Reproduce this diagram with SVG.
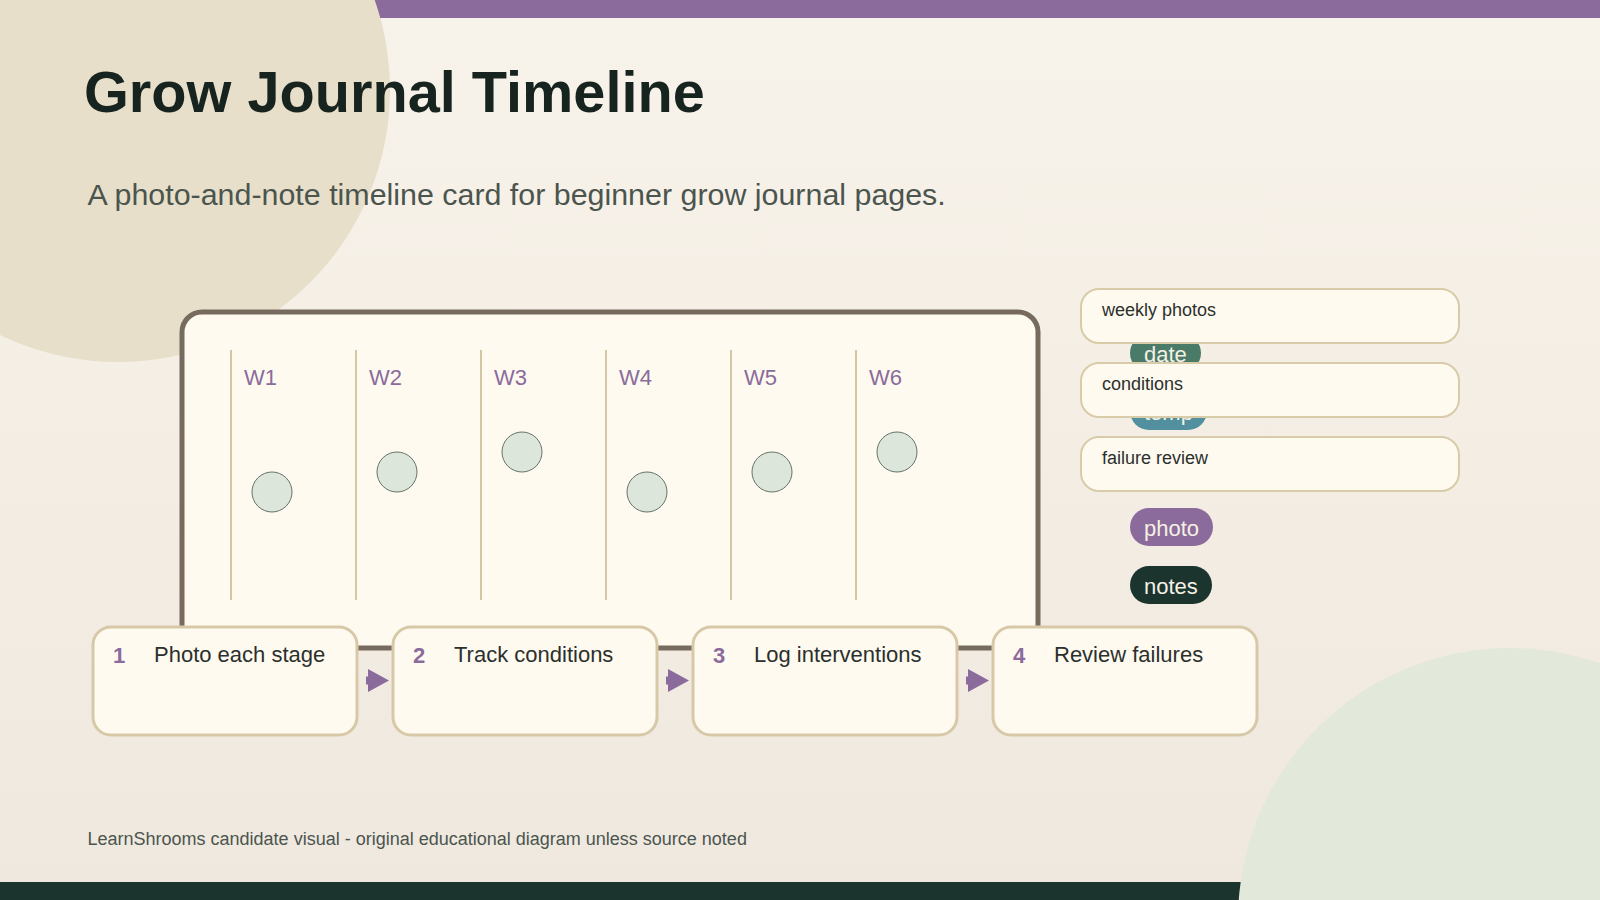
<svg xmlns="http://www.w3.org/2000/svg" width="1600" height="900" viewBox="0 0 1600 900">
  <defs>
    <linearGradient id="bg" x1="0" y1="0" x2="0" y2="1">
      <stop offset="0" stop-color="#f8f3ea"/>
      <stop offset="1" stop-color="#efe8df"/>
    </linearGradient>
    <marker id="arrow" markerUnits="userSpaceOnUse" markerWidth="22" markerHeight="24" viewBox="0 0 22 24" refX="0" refY="12" orient="auto">
      <path d="M0,0.5 L21,12 L0,23.5 z" fill="#8a6b9c"/>
    </marker>
    <style>
      .wline { stroke: #d2c6a5; stroke-width: 2; }
      .wlabel { font-family: "Liberation Sans", Arial, sans-serif; font-size: 22px; fill: #8a6b9c; }
      .dot { fill: #dce6da; stroke: #66736a; stroke-width: 1; }
      .sidebox { fill: #fffaf0; stroke: #d8cba8; stroke-width: 2; }
      .sidetext { font-family: "Liberation Sans", Arial, sans-serif; font-size: 18px; fill: #2b302c; }
      .pilltext { font-family: "Liberation Sans", Arial, sans-serif; font-size: 22px; fill: #f5f0e4; }
      .step { fill: #fffaf0; stroke: #d7c9a7; stroke-width: 3; }
      .stepnum { font-family: "Liberation Sans", Arial, sans-serif; font-size: 22px; font-weight: bold; fill: #8a6b9c; }
      .steptext { font-family: "Liberation Sans", Arial, sans-serif; font-size: 22px; fill: #2b302c; }
      .conn { stroke: #8a6b9c; stroke-width: 8; fill: none; }
    </style>
  </defs>

  <rect x="0" y="0" width="1600" height="900" fill="url(#bg)"/>
  <rect x="0" y="0" width="1600" height="18" fill="#8a6b9c"/>
  <rect x="0" y="882" width="1600" height="18" fill="#1b342d"/>
  <circle cx="118" cy="90" r="272" fill="#e7dfca"/>
  <circle cx="1510" cy="920" r="272" fill="#e2e8da"/>

  <text x="84" y="112" font-family="'Liberation Sans', Arial, sans-serif" font-size="57.7" font-weight="bold" fill="#17231f">Grow Journal Timeline</text>
  <text x="87.5" y="205" font-family="'Liberation Sans', Arial, sans-serif" font-size="30.4" fill="#4b554e">A photo-and-note timeline card for beginner grow journal pages.</text>

  <g id="timeline-card">
    <rect x="182" y="312" width="856" height="336" rx="20" fill="#fffaf0" stroke="#766b5d" stroke-width="5"/>
    <g id="week-1">
      <line class="wline" x1="231" y1="350" x2="231" y2="600"/>
      <text class="wlabel" x="244" y="385">W1</text>
      <circle class="dot" cx="272" cy="492" r="20"/>
    </g>
    <g id="week-2">
      <line class="wline" x1="356" y1="350" x2="356" y2="600"/>
      <text class="wlabel" x="369" y="385">W2</text>
      <circle class="dot" cx="397" cy="472" r="20"/>
    </g>
    <g id="week-3">
      <line class="wline" x1="481" y1="350" x2="481" y2="600"/>
      <text class="wlabel" x="494" y="385">W3</text>
      <circle class="dot" cx="522" cy="452" r="20"/>
    </g>
    <g id="week-4">
      <line class="wline" x1="606" y1="350" x2="606" y2="600"/>
      <text class="wlabel" x="619" y="385">W4</text>
      <circle class="dot" cx="647" cy="492" r="20"/>
    </g>
    <g id="week-5">
      <line class="wline" x1="731" y1="350" x2="731" y2="600"/>
      <text class="wlabel" x="744" y="385">W5</text>
      <circle class="dot" cx="772" cy="472" r="20"/>
    </g>
    <g id="week-6">
      <line class="wline" x1="856" y1="350" x2="856" y2="600"/>
      <text class="wlabel" x="869" y="385">W6</text>
      <circle class="dot" cx="897" cy="452" r="20"/>
    </g>
  </g>

  <g id="pills">
    <g id="pill-date">
      <rect x="1130" y="334" width="71" height="38" rx="19" fill="#4a7a68"/>
      <text class="pilltext" x="1144" y="362">date</text>
    </g>
    <g id="pill-temp">
      <rect x="1130" y="392" width="77" height="38" rx="19" fill="#52909f"/>
      <text class="pilltext" x="1144" y="420">temp</text>
    </g>
    <g id="pill-photo">
      <rect x="1130" y="508" width="83" height="38" rx="19" fill="#8a6b9c"/>
      <text class="pilltext" x="1144" y="536">photo</text>
    </g>
    <g id="pill-notes">
      <rect x="1130" y="566" width="82" height="38" rx="19" fill="#1b342d"/>
      <text class="pilltext" x="1144" y="594">notes</text>
    </g>
  </g>

  <g id="side-weekly-photos">
    <rect class="sidebox" x="1081" y="289" width="378" height="54" rx="18"/>
    <text class="sidetext" x="1102" y="316">weekly photos</text>
  </g>
  <g id="side-conditions">
    <rect class="sidebox" x="1081" y="363" width="378" height="54" rx="18"/>
    <text class="sidetext" x="1102" y="390">conditions</text>
  </g>
  <g id="side-failure-review">
    <rect class="sidebox" x="1081" y="437" width="378" height="54" rx="18"/>
    <text class="sidetext" x="1102" y="464">failure review</text>
  </g>

  <g id="step-1">
    <rect class="step" x="93" y="627" width="264" height="108" rx="18"/>
    <text class="stepnum" x="113" y="663">1</text>
    <text class="steptext" x="154" y="662">Photo each stage</text>
  </g>
  <g id="step-2">
    <rect class="step" x="393" y="627" width="264" height="108" rx="18"/>
    <text class="stepnum" x="413" y="663">2</text>
    <text class="steptext" x="454" y="662">Track conditions</text>
  </g>
  <g id="step-3">
    <rect class="step" x="693" y="627" width="264" height="108" rx="18"/>
    <text class="stepnum" x="713" y="663">3</text>
    <text class="steptext" x="754" y="662">Log interventions</text>
  </g>
  <g id="step-4">
    <rect class="step" x="993" y="627" width="264" height="108" rx="18"/>
    <text class="stepnum" x="1013" y="663">4</text>
    <text class="steptext" x="1054" y="662">Review failures</text>
  </g>

  <g id="connectors">
    <line class="conn" x1="366" y1="680.5" x2="368" y2="680.5" marker-end="url(#arrow)"/>
    <line class="conn" x1="666" y1="680.5" x2="668" y2="680.5" marker-end="url(#arrow)"/>
    <line class="conn" x1="966" y1="680.5" x2="968" y2="680.5" marker-end="url(#arrow)"/>
  </g>

  <text x="87.5" y="845" font-family="'Liberation Sans', Arial, sans-serif" font-size="18" fill="#4b554e">LearnShrooms candidate visual - original educational diagram unless source noted</text>
</svg>
